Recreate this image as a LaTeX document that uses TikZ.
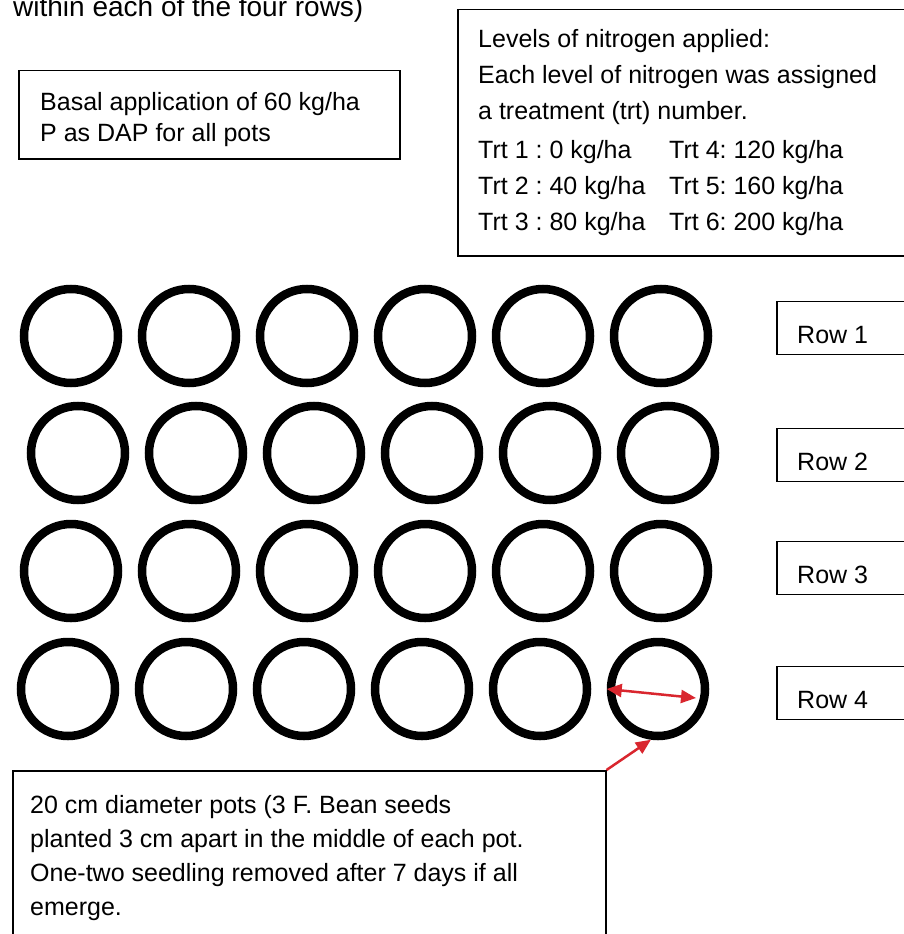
\documentclass[tikz,border=0pt]{standalone}
\usepackage{fontspec}
\setmainfont{Liberation Sans}
\usetikzlibrary{arrows.meta,positioning,calc}
\definecolor{ink}{HTML}{000000}
\definecolor{pin}{HTML}{D9262E}
\newcommand{\trtcol}[1]{\makebox[191pt][l]{#1}}
\frenchspacing

\begin{document}
\begin{tikzpicture}[x=1pt,y=-1pt,
  box/.style={draw=ink,line width=1.5pt,inner sep=0pt,anchor=north west},
  txt/.style={inner sep=0pt,anchor=base west,align=left,font=\fontsize{25}{36}\selectfont},
  pot/.style={circle,draw=ink,line width=8.5pt,inner sep=0pt,minimum size=94pt},
  arr/.style={color=pin,line width=2.5pt,-{Triangle[length=15pt,width=13pt]}}]
  \useasboundingbox (0,0) rectangle (904,934);
  % text cut off at the top of the page
  \node[txt,font=\fontsize{28}{34}\selectfont] (head) at (13,17) {within each of the four rows)};
  % multi-line texts: base = baseline of the last line
  \node[box,minimum width=381pt,minimum height=88pt] (basal) at (18,70) {};
  \node[txt,font=\fontsize{25}{31}\selectfont] (basaltxt) at (40,141) {Basal application of 60 kg/ha\\P as DAP for all pots};
  \node[box,minimum width=500pt,minimum height=246pt] (trt) at (457,9) {};
  \node[txt] (trttxt) at (478,230) {Levels of nitrogen applied:\\Each level of nitrogen was assigned\\a treatment (trt) number.\\[3pt]
    \trtcol{Trt 1 : 0 kg/ha}Trt 4: 120 kg/ha\\\trtcol{Trt 2 : 40 kg/ha}Trt 5: 160 kg/ha\\\trtcol{Trt 3 : 80 kg/ha}Trt 6: 200 kg/ha};
  % pots, six per row, and the row labels
  \foreach \r/\yp/\dx/\yb in {1/336/0/328,2/453/7/455,3/571/0/568,4/689/-3/693}{
    \foreach \c in {1,...,6}
      \node[pot] (pot-\r-\c) at ({71+\dx+118*(\c-1)},\yp) {};
    \node[box,anchor=west,minimum width=150pt,minimum height=53pt] (row-\r) at (776,\yb) {};
    \node[txt] (rowtxt-\r) at (797,{\yb+15}) {Row \r};
  }
  \node[box,minimum width=593pt,minimum height=200pt] (note) at (12,770) {};
  \node[txt,font=\fontsize{25}{34}\selectfont] (notetxt) at (30,915) {20 cm diameter pots (3 F. Bean seeds\\planted 3 cm apart in the middle of each pot.\\One-two seedling removed after 7 days if all\\emerge.};
  \draw[arr,{Triangle[length=15pt,width=13pt]}-{Triangle[length=15pt,width=13pt]}] (pot-4-6.west) -- ($(pot-4-6.center)+(38,9)$);
  \draw[arr] (note.north east) -- (pot-4-6.-98);
\end{tikzpicture}
\end{document}
